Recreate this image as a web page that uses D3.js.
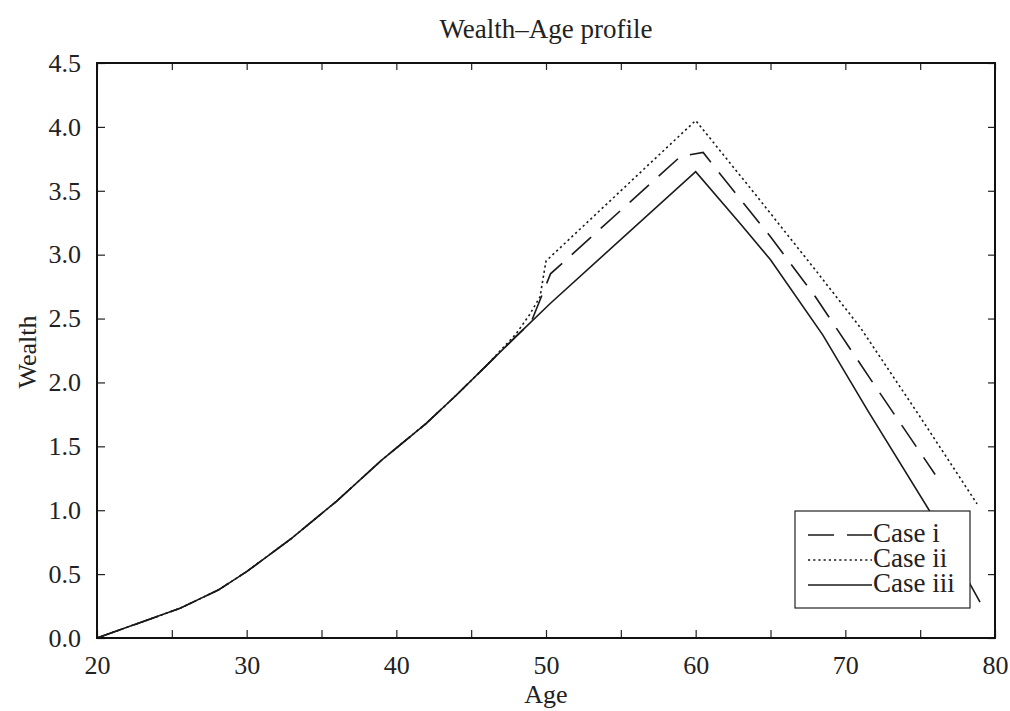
<!DOCTYPE html>
<html>
<head>
<meta charset="utf-8">
<script src="https://cdn.jsdelivr.net/npm/d3@7"></script>
<style>
  body { margin: 0; background: #fff; }
  svg { font-family: 'Liberation Serif', 'Times New Roman', serif; }
  .tick text { font-family: 'Liberation Serif', 'Times New Roman', serif; font-size: 26px; fill: #222; }
</style>
</head>
<body>
<svg width="1010" height="711"></svg>
<script>
// ages and wealth for each case
const agesI   = [20, 25.5, 28.1, 30, 33, 36, 39, 42, 44, 46, 48, 49, 50.3, 59, 60.5, 61.3, 65, 68, 72, 76]
const caseI   = [0, 0.23, 0.375, 0.52, 0.78, 1.07, 1.39, 1.68, 1.90, 2.13, 2.36, 2.47, 2.85, 3.77, 3.80, 3.68, 3.14, 2.67, 1.97, 1.28]

const agesII  = [20, 25.5, 28.1, 30, 33, 36, 39, 42, 44, 46, 48, 48.9, 49.6, 50, 60, 64, 68, 71, 75, 78.8]
const caseII  = [0, 0.23, 0.375, 0.52, 0.78, 1.07, 1.39, 1.68, 1.90, 2.13, 2.38, 2.53, 2.67, 2.95, 4.05, 3.47, 2.88, 2.43, 1.73, 1.05]

const agesIII = [20, 25.5, 28.1, 30, 33, 36, 39, 42, 44, 46, 48, 50.3, 60, 63, 65, 68.5, 71.5, 75.6, 79]
const caseIII = [0, 0.23, 0.375, 0.52, 0.78, 1.07, 1.39, 1.68, 1.90, 2.13, 2.36, 2.62, 3.65, 3.24, 2.96, 2.37, 1.78, 1.0, 0.28]

const xTicks = [20, 25, 30, 35, 40, 45, 50, 55, 60, 65, 70, 75, 80]
const yTicks = [0, 0.5, 1, 1.5, 2, 2.5, 3, 3.5, 4, 4.5]
const legendLabels = ['Case i', 'Case ii', 'Case iii']

let mLeft = 97, mRight = 995, mTop = 63, mBottom = 638

let svg = d3.select('svg')

let scX = d3.scaleLinear().domain([20, 80]).range([mLeft, mRight])
let scY = d3.scaleLinear().domain([0, 4.5]).range([mBottom, mTop])

const fmtX = d => d % 10 === 0 ? d : ''

// bottom axis with labels, ticks pointing in
let axB = svg.append('g')
	.attr('transform', `translate(0, ${mBottom})`)
	.call(d3.axisBottom(scX).tickValues(xTicks).tickFormat(fmtX).tickSizeInner(-8).tickSizeOuter(0).tickPadding(13))
axB.selectAll('.tick text').attr('dy', '0.9em')

// top axis, ticks only
svg.append('g')
	.attr('transform', `translate(0, ${mTop})`)
	.call(d3.axisTop(scX).tickValues(xTicks).tickFormat('').tickSizeInner(-7).tickSizeOuter(0))

// left axis with labels
svg.append('g')
	.attr('transform', `translate(${mLeft}, 0)`)
	.call(d3.axisLeft(scY).tickValues(yTicks).tickFormat(d3.format('.1f')).tickSizeInner(-8).tickSizeOuter(0).tickPadding(16))

// right axis, ticks only
svg.append('g')
	.attr('transform', `translate(${mRight}, 0)`)
	.call(d3.axisRight(scY).tickValues(yTicks).tickFormat('').tickSizeInner(-7).tickSizeOuter(0))

svg.selectAll('.domain').remove()
svg.selectAll('.tick line').attr('stroke', '#222').attr('stroke-width', 1.2)

// the lines
let line = d3.line().x(d => scX(d[0])).y(d => scY(d[1]))
const series = [
	{ ages: agesI, vals: caseI, dash: '26,13' },
	{ ages: agesII, vals: caseII, dash: '2.2,3' },
	{ ages: agesIII, vals: caseIII, dash: null }
]

svg.append('g').selectAll('path')
	.data(series).enter().append('path')
	.attr('d', s => line(s.ages.map((a, i) => [a, s.vals[i]])))
	.attr('fill', 'none')
	.attr('stroke', '#1a1a1a')
	.attr('stroke-width', 1.6)
	.attr('stroke-dasharray', s => s.dash)

// frame
svg.append('rect')
	.attr('x', mLeft).attr('y', mTop)
	.attr('width', mRight - mLeft).attr('height', mBottom - mTop)
	.attr('fill', 'none').attr('stroke', '#111').attr('stroke-width', 2)

// legend
let lg = svg.append('g')
lg.append('rect')
	.attr('x', 795).attr('y', 511).attr('width', 175).attr('height', 97)
	.attr('fill', '#fff').attr('stroke', '#222').attr('stroke-width', 1.2)

let rows = lg.selectAll('g.row')
	.data(series).enter().append('g')
	.attr('transform', (d, i) => `translate(0, ${542 + i * 25})`)

rows.append('line')
	.attr('x1', 808).attr('x2', 872).attr('y1', -7).attr('y2', -7)
	.attr('stroke', '#1a1a1a').attr('stroke-width', 1.6)
	.attr('stroke-dasharray', d => d.dash)

rows.append('text')
	.attr('x', 873).attr('y', 0)
	.style('font-size', '27px').attr('fill', '#222')
	.text((d, i) => legendLabels[i])

// titles
svg.append('text')
	.attr('x', (mLeft + mRight) / 2).attr('y', 38)
	.attr('text-anchor', 'middle')
	.style('font-size', '27px').attr('fill', '#222')
	.text('Wealth–Age profile')

svg.append('text')
	.attr('x', (mLeft + mRight) / 2).attr('y', 703)
	.attr('text-anchor', 'middle')
	.style('font-size', '26px').attr('fill', '#222')
	.text('Age')

svg.append('text')
	.attr('transform', 'translate(36, 352) rotate(-90)')
	.attr('text-anchor', 'middle')
	.style('font-size', '26px').attr('fill', '#222')
	.text('Wealth')
</script>
</body>
</html>
